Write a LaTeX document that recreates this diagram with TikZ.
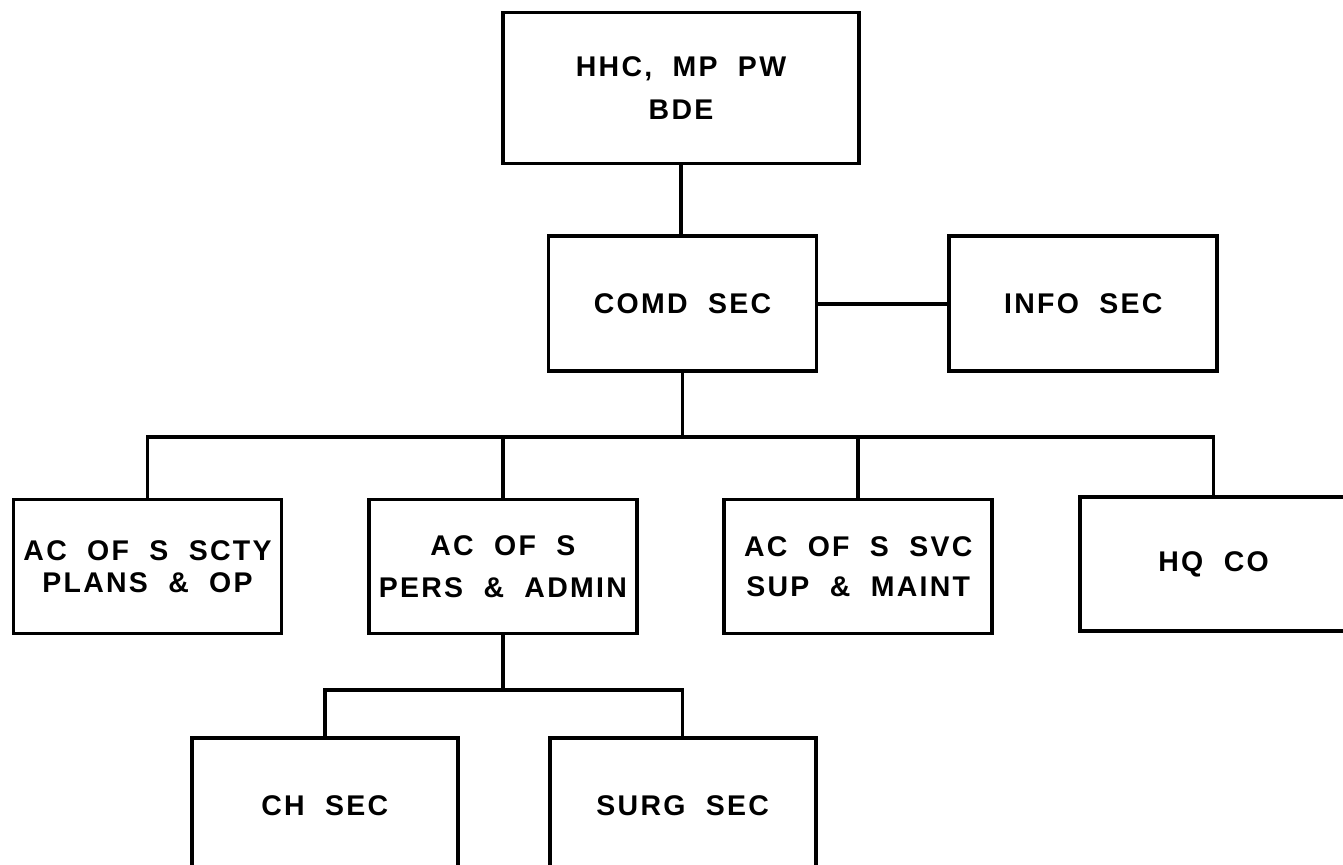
\documentclass[tikz,border=0pt]{standalone}
\usepackage{fontspec}
\newfontfamily\orgfont[LetterSpace=8,WordSpace=2]{Liberation Sans}
\usetikzlibrary{positioning}

\begin{document}
\begin{tikzpicture}[
  node distance=1.67cm and 1.67cm,
  unit/.style={draw,rectangle,line width=2.2pt,minimum width=5.36cm,minimum height=2.68cm,
               align=center,inner sep=2pt,font=\orgfont\bfseries\fontsize{16.2}{20}\selectfont},
  link/.style={line width=2pt}
]
\clip (0,0) rectangle (26.86,-17.28);

% Top
\node[unit, minimum width=7.12cm, minimum height=3.02cm] (hhc) at (13.62,-1.76)
  {HHC, MP PW\\[4pt] BDE};
\node[unit, minimum height=2.7cm, below=1.38cm of hhc, xshift=0.03cm] (comd) {COMD SEC};
\node[unit, minimum height=2.7cm, right=2.58cm of comd] (info) {INFO SEC};

% Staff row
\node[unit] (scty) at (2.95,-11.33) {AC OF S SCTY\\[-2pt] PLANS \& OP};
\node[unit, right=of scty] (pers) {AC OF S\\[4pt] PERS \& ADMIN};
\node[unit, right=of pers] (svc) {AC OF S SVC\\[3pt] SUP \& MAINT};
\node[unit, right=of svc, yshift=0.05cm] (hq) {HQ CO};

% Sections under pers & admin
\node[unit, minimum width=5.32cm, minimum height=2.7cm, below=2.02cm of pers, xshift=-3.56cm] (ch) {CH SEC};
\node[unit, minimum width=5.32cm, minimum height=2.7cm, right=1.76cm of ch] (surg) {SURG SEC};

% Lines
\coordinate (bus) at (0,-8.74);
\coordinate (sub) at (0,-13.8);
\draw[link] (hhc.south) -- (hhc.south |- comd.north);
\draw[link] (comd) -- (info);
\draw[link] (comd.south) -- (comd.south |- bus);
\draw[link] (scty.north) -- (scty.north |- bus) -- (hq.north |- bus) -- (hq.north);
\foreach \n in {pers,svc}
  \draw[link] (\n.north) -- (\n.north |- bus);
\draw[link] (pers.south) -- (pers.south |- sub);
\draw[link] (ch.north) -- (ch.north |- sub) -- (surg.north |- sub) -- (surg.north);

\end{tikzpicture}
\end{document}
